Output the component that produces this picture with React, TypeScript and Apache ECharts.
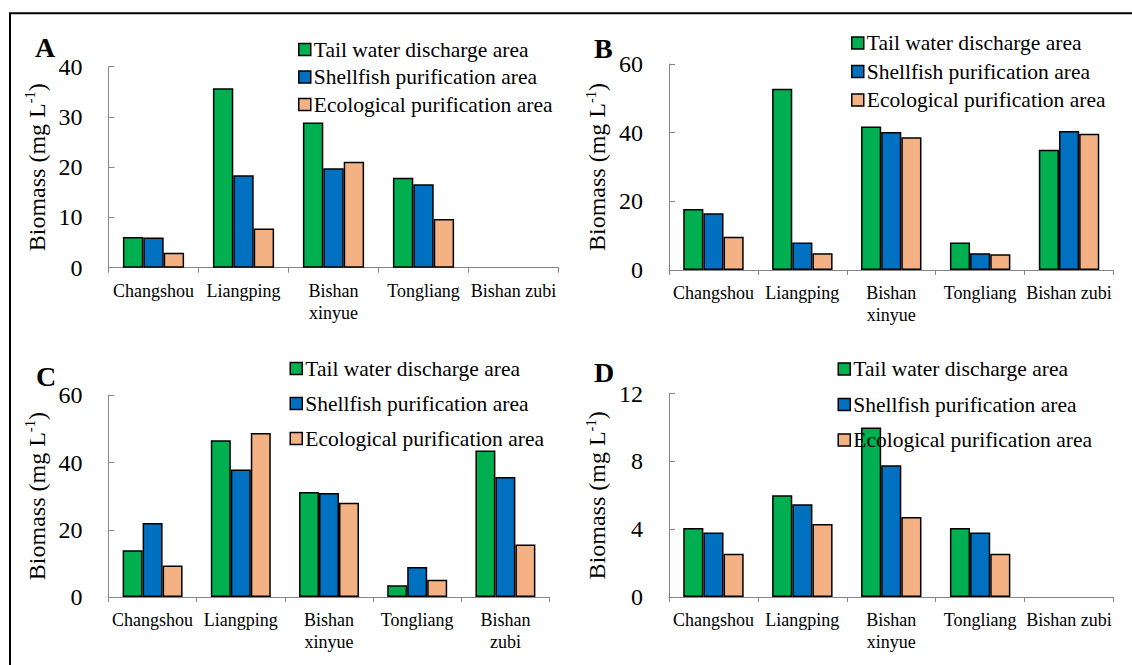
import React, { useEffect, useRef } from "react";
import * as echarts from "echarts";

const seriesNames = ["Tail water discharge area", "Shellfish purification area", "Ecological purification area"];
const seriesColors = ["#00B050", "#0070C0", "#F4B183"];

const catsABD = ["Changshou", "Liangping", "Bishan\nxinyue", "Tongliang", "Bishan zubi"];
const catsC = ["Changshou", "Liangping", "Bishan\nxinyue", "Tongliang", "Bishan\nzubi"];

const aTail = [6.1, 35.7, 28.9, 17.9, null];
const aShell = [6.0, 18.4, 19.8, 16.6, null];
const aEco = [3.0, 7.8, 21.1, 9.7, null];

const bTail = [17.8, 52.8, 41.8, 8.0, 35.0];
const bShell = [16.5, 8.0, 40.2, 4.9, 40.5];
const bEco = [9.7, 4.9, 38.7, 4.6, 39.7];

const cTail = [13.9, 46.6, 31.2, 3.5, 43.6];
const cShell = [22.0, 37.9, 30.9, 8.9, 35.7];
const cEco = [9.4, 48.8, 28.0, 5.1, 15.6];

const dTail = [4.07, 6.0, 10.0, 4.07, null];
const dShell = [3.8, 5.47, 7.77, 3.8, null];
const dEco = [2.55, 4.31, 4.72, 2.55, null];

const yMax = [40, 60, 60, 12];
const yInterval = [10, 20, 20, 4];
const panelLabels = ["A", "B", "C", "D"];

const FONT = "Liberation Serif";

export default function App() {
  const ref = useRef<HTMLDivElement>(null);
  useEffect(() => {
    if (!ref.current) return;
    const chart = echarts.init(ref.current, undefined, { renderer: "svg" });

    const panels = [
      { cats: catsABD, data: [aTail, aShell, aEco], grid: { left: 108.5, top: 66.7, right: 1132 - 558.5, bottom: 665 - 267.7 }, legend: { left: 298, top: 38.5, gap: 5.5 }, label: { x: 35, y: 47.5 } },
      { cats: catsABD, data: [bTail, bShell, bEco], grid: { left: 669, top: 64, right: 1132 - 1113.5, bottom: 665 - 270 }, legend: { left: 851, top: 32, gap: 6.5 }, label: { x: 594, y: 48.5 } },
      { cats: catsC, data: [cTail, cShell, cEco], grid: { left: 108.5, top: 395.3, right: 1132 - 549.5, bottom: 665 - 597 }, legend: { left: 289.5, top: 357.5, gap: 13 }, label: { x: 36, y: 376 } },
      { cats: catsABD, data: [dTail, dShell, dEco], grid: { left: 669, top: 393.7, right: 1132 - 1113.5, bottom: 665 - 597 }, legend: { left: 837.5, top: 358, gap: 13.5 }, label: { x: 594, y: 372 } },
    ];

    const grids: any[] = [];
    const xAxes: any[] = [];
    const yAxes: any[] = [];
    const series: any[] = [];
    const legends: any[] = [];
    const graphics: any[] = [];

    panels.forEach((p, i) => {
      grids.push({ ...p.grid, containLabel: false });
      xAxes.push({
        type: "category",
        gridIndex: i,
        data: p.cats,
        axisLine: { show: true, lineStyle: { color: "#868686", width: 1 } },
        axisTick: { show: true, inside: false, length: 5, alignWithLabel: false, lineStyle: { color: "#868686" } },
        axisLabel: { interval: 0, fontSize: 18, lineHeight: 22, margin: 12, color: "#000", fontFamily: FONT },
        splitLine: { show: false },
      });
      yAxes.push({
        type: "value",
        gridIndex: i,
        min: 0,
        max: yMax[i],
        interval: yInterval[i],
        axisLine: { show: true, lineStyle: { color: "#868686", width: 1 } },
        axisTick: { show: true, inside: true, length: 6, lineStyle: { color: "#868686" } },
        axisLabel: { fontSize: 24, margin: 26, color: "#000", fontFamily: FONT },
        splitLine: { show: false },
        name: "{a|Biomass (mg L}{s|-1}{a|)}",
        nameLocation: "middle",
        nameGap: 58,
        nameTextStyle: {
          fontFamily: FONT,
          rich: {
            a: { fontSize: 24, fontFamily: FONT, color: "#000", lineHeight: 28, verticalAlign: "middle" },
            s: { fontSize: 14.5, fontFamily: FONT, color: "#000", lineHeight: 28, verticalAlign: "top" },
          },
        },
      });
      p.data.forEach((d, k) => {
        series.push({
          type: "bar",
          name: seriesNames[k],
          xAxisIndex: i,
          yAxisIndex: i,
          data: d,
          barGap: "0%",
          barCategoryGap: "32%",
          itemStyle: { color: seriesColors[k], borderColor: "#000", borderWidth: 1.5 },
        });
      });
      legends.push({
        orient: "vertical",
        left: p.legend.left,
        top: p.legend.top,
        itemGap: p.legend.gap,
        itemWidth: 12,
        itemHeight: 12,
        icon: "rect",
        padding: 0,
        data: seriesNames,
        selectedMode: false,
        itemStyle: { borderColor: "#000", borderWidth: 1.5 },
        textStyle: { fontSize: 21.5, lineHeight: 21, color: "#000", fontFamily: FONT, padding: [0, 0, 0, -2] },
      });
      graphics.push({
        type: "text",
        x: p.label.x,
        y: p.label.y,
        style: { text: panelLabels[i], fontFamily: FONT, fontSize: 28, fontWeight: "bold", fill: "#000", verticalAlign: "middle" },
      });
    });

    graphics.push({
      type: "rect",
      shape: { x: 10, y: 13.3, width: 1140, height: 680 },
      style: { fill: "none", stroke: "#000", lineWidth: 2 },
    });

    chart.setOption({
      animation: false,
      backgroundColor: "#fff",
      textStyle: { fontFamily: FONT },
      grid: grids,
      xAxis: xAxes,
      yAxis: yAxes,
      series,
      legend: legends,
      graphic: graphics,
    });

    return () => chart.dispose();
  }, []);

  return <div ref={ref} style={{ position: "fixed", left: 0, top: 0, width: 1132, height: 665 }} />;
}
